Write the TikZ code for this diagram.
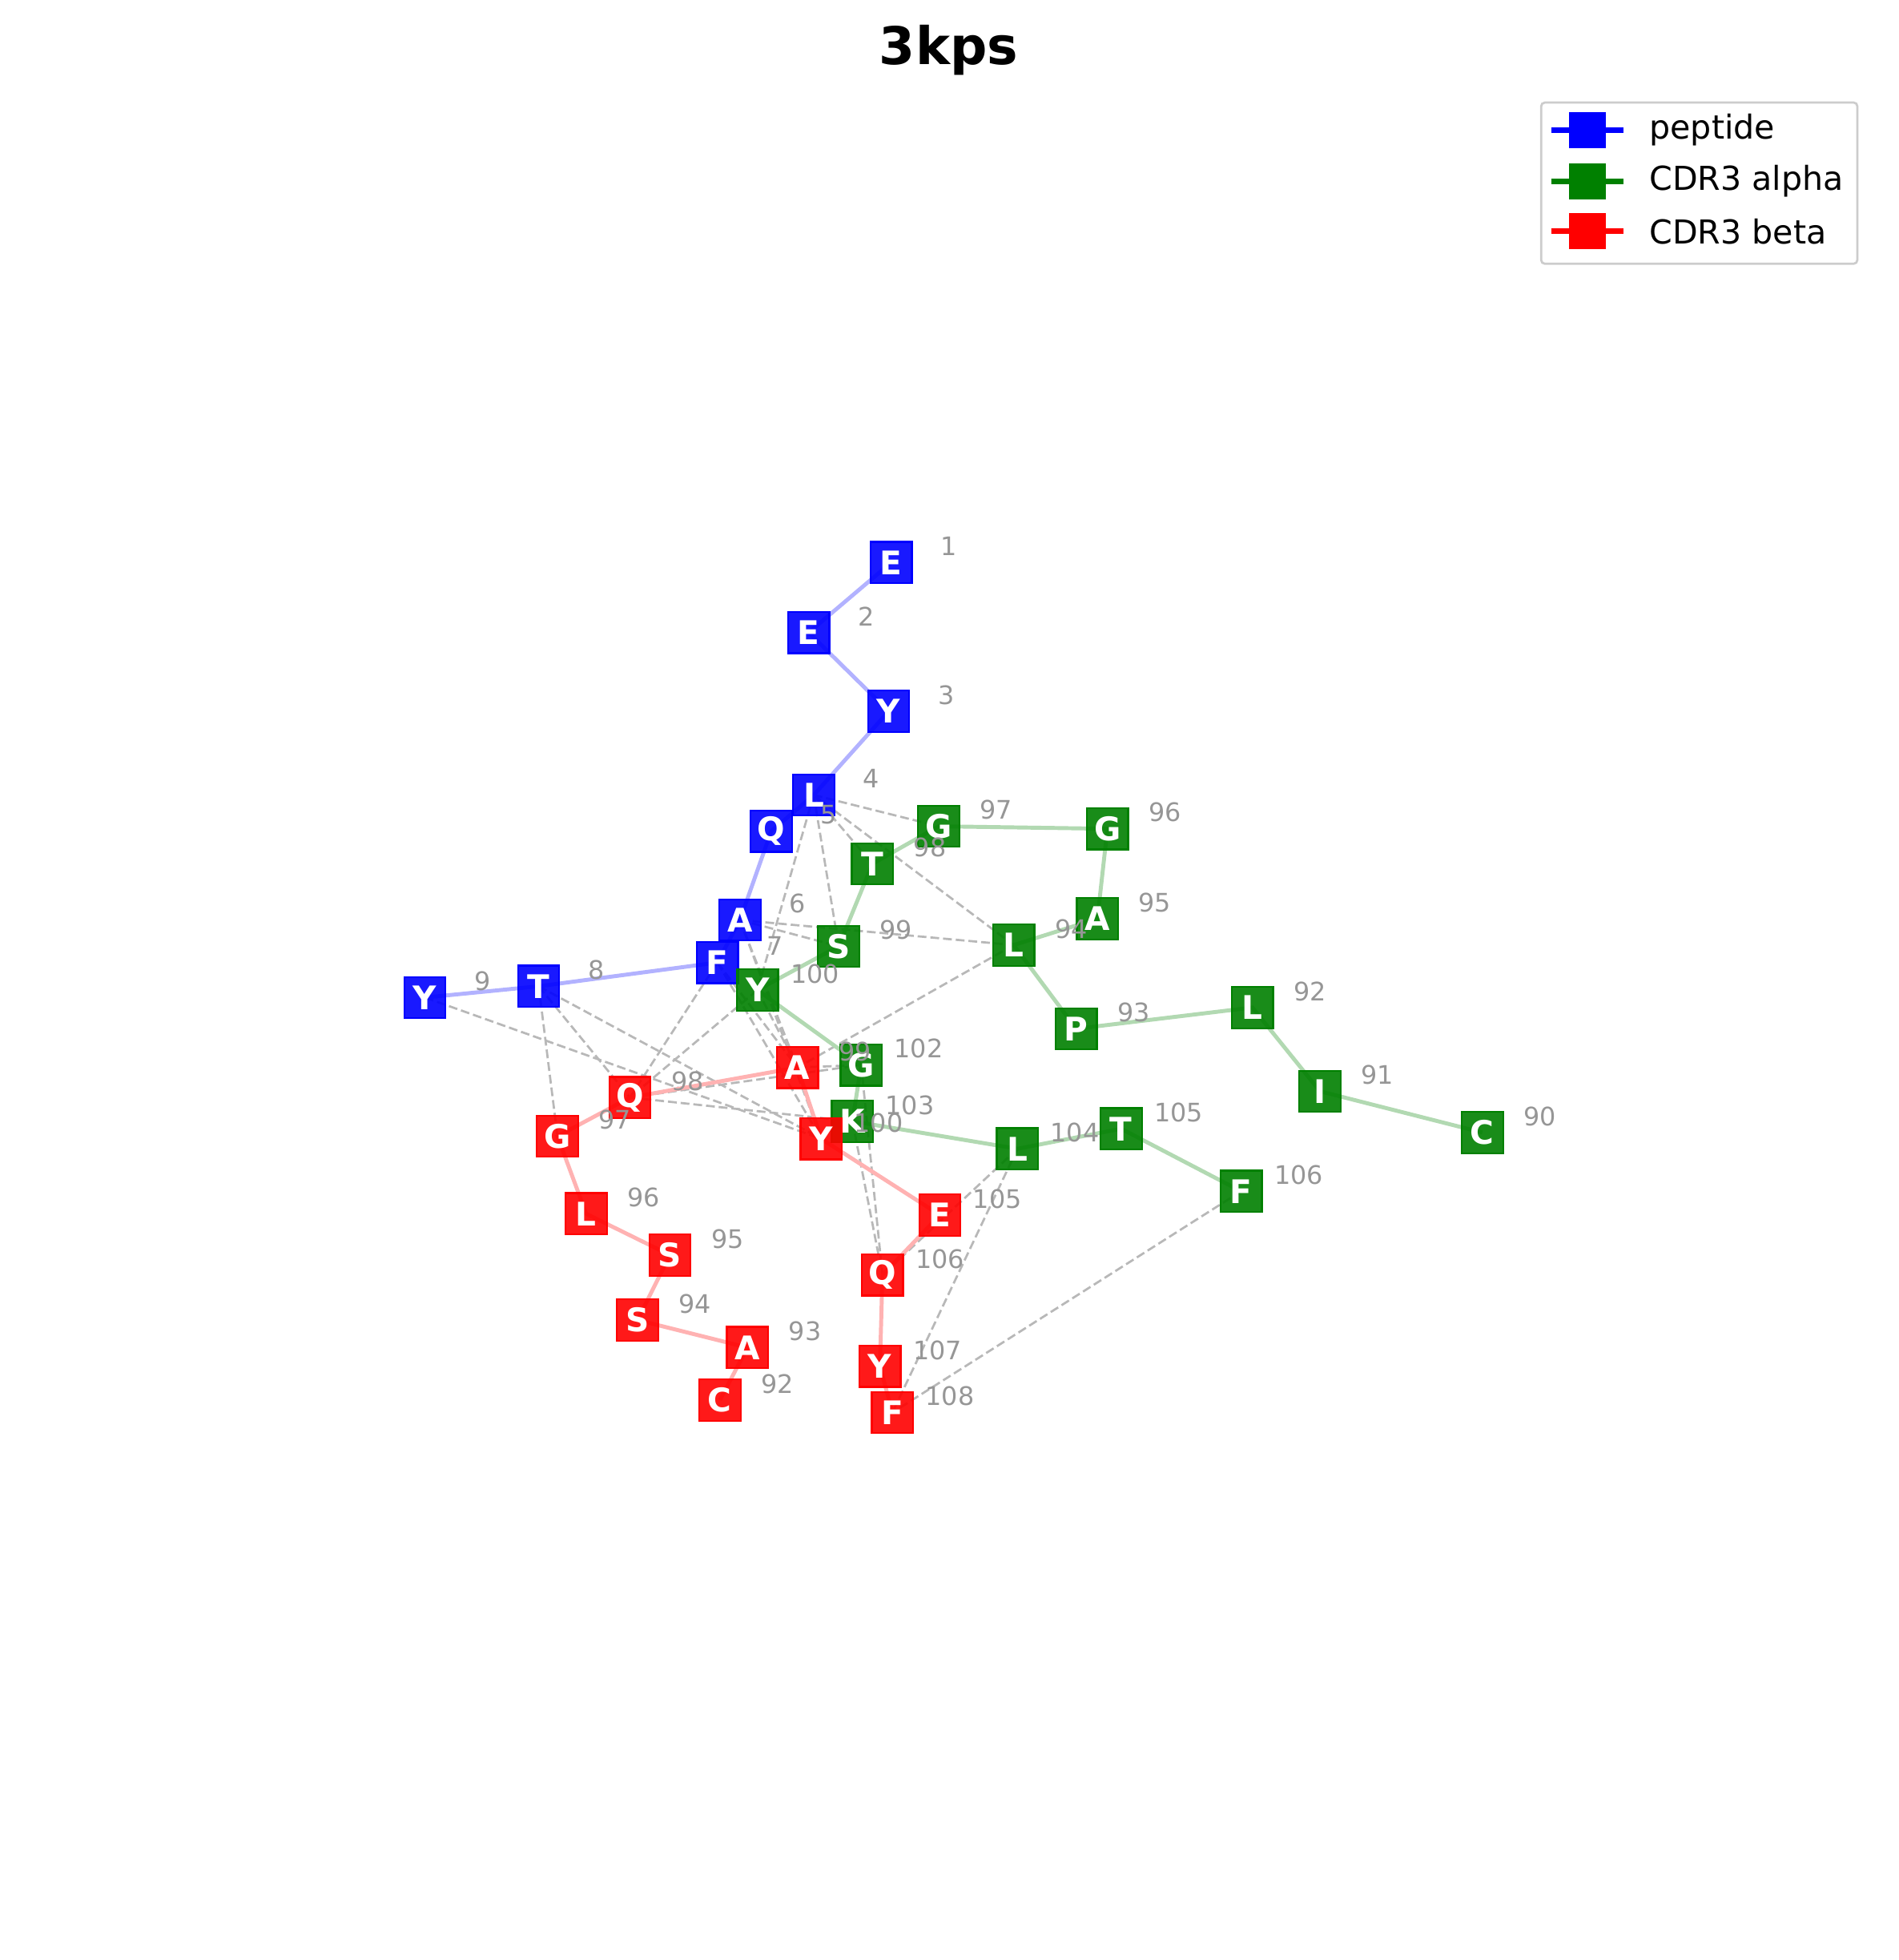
\documentclass[tikz,border=0pt]{standalone}
\usepackage{fontspec}
\setmainfont{DejaVu Sans}
\usetikzlibrary{calc,backgrounds}

\definecolor{mplgreen}{RGB}{0,128,0}
\definecolor{numgray}{RGB}{150,150,150}
\definecolor{contactgray}{RGB}{184,184,184}
\definecolor{framegray}{RGB}{204,204,204}

\begin{document}
\begin{tikzpicture}[x=0.01cm, y=-0.01cm, every node/.style={font=\fontsize{5.8}{7}\selectfont},
  res/.style={draw, line width=0.4pt, minimum size=3.3mm, inner sep=0pt, text=white,
    font=\fontsize{7.4}{8}\selectfont\bfseries, fill opacity=0.9, text opacity=1},
  pep/.style={res, fill=blue, draw=blue},
  cdra/.style={res, fill=mplgreen, draw=mplgreen},
  cdrb/.style={res, fill=red, draw=red},
  num/.style={text=numgray, inner sep=0pt},
  chain/.style={line width=0.9pt},
  contact/.style={contactgray, line width=0.5pt, dash pattern=on 2pt off 0.9pt},
  legmark/.style={minimum size=2.9mm, inner sep=0pt},
  legtext/.style={anchor=west, inner sep=0pt, font=\fontsize{7.5}{9}\selectfont}]
\useasboundingbox (0,0) rectangle (1519,1568);

\node[font=\fontsize{11.8}{14}\selectfont\bfseries] (title) at (759,40) {3kps};

% peptide
\node[pep] (p9) at (340,798) {Y};
\node[pep] (p8) at (431,789) {T};
\node[pep] (p7) at (574,770) {F};
\node[pep] (p6) at (592,736) {A};
\node[pep] (p5) at (617,665) {Q};
\node[pep] (p4) at (651,636) {L};
\node[pep] (p3) at (711,569) {Y};
\node[pep] (p2) at (647,506) {E};
\node[pep] (p1) at (713,450) {E};

% CDR3 alpha
\node[cdra] (a90) at (1186,906) {C};
\node[cdra] (a91) at (1056,873) {I};
\node[cdra] (a92) at (1002,806) {L};
\node[cdra] (a93) at (861,823) {P};
\node[cdra] (a94) at (811,756) {L};
\node[cdra] (a95) at (878,735) {A};
\node[cdra] (a96) at (886,663) {G};
\node[cdra] (a97) at (751,661) {G};
\node[cdra] (a98) at (698,691) {T};
\node[cdra] (a99) at (671,757) {S};
\node[cdra] (a100) at (606,792) {Y};
\node[cdra] (a102) at (689,852) {G};
\node[cdra] (a103) at (682,897) {K};
\node[cdra] (a104) at (814,919) {L};
\node[cdra] (a105) at (897,903) {T};
\node[cdra] (a106) at (993,953) {F};

% CDR3 beta
\node[cdrb] (b92) at (576,1120) {C};
\node[cdrb] (b93) at (598,1078) {A};
\node[cdrb] (b94) at (510,1056) {S};
\node[cdrb] (b95) at (536,1004) {S};
\node[cdrb] (b96) at (469,971) {L};
\node[cdrb] (b97) at (446,909) {G};
\node[cdrb] (b98) at (504,878) {Q};
\node[cdrb] (b99) at (638,854) {A};
\node[cdrb] (b100) at (657,911) {Y};
\node[cdrb] (b105) at (752,972) {E};
\node[cdrb] (b106) at (706,1020) {Q};
\node[cdrb] (b107) at (704,1093) {Y};
\node[cdrb] (b108) at (714,1130) {F};

\begin{scope}[on background layer]
% contacts
\draw[contact] (p4.center) -- (a97.center);
\draw[contact] (p4.center) -- (a98.center);
\draw[contact] (p4.center) -- (a94.center);
\draw[contact] (p4.center) -- (a99.center);
\draw[contact] (p4.center) -- (a100.center);
\draw[contact] (p6.center) -- (a99.center);
\draw[contact] (p6.center) -- (a94.center);
\draw[contact] (p6.center) -- (b99.center);
\draw[contact] (p6.center) -- (b100.center);
\draw[contact] (p7.center) -- (b99.center);
\draw[contact] (p7.center) -- (b100.center);
\draw[contact] (p7.center) -- (b98.center);
\draw[contact] (a100.center) -- (b99.center);
\draw[contact] (a100.center) -- (b98.center);
\draw[contact] (p8.center) -- (b97.center);
\draw[contact] (p8.center) -- (b98.center);
\draw[contact] (p8.center) -- (b100.center);
\draw[contact] (p9.center) -- (b100.center);
\draw[contact] (b98.center) -- (a103.center);
\draw[contact] (b98.center) -- (a102.center);
\draw[contact] (b99.center) -- (a102.center);
\draw[contact] (a94.center) -- (b99.center);
\draw[contact] (a102.center) -- (b106.center);
\draw[contact] (a103.center) -- (b106.center);
\draw[contact] (a104.center) -- (b106.center);
\draw[contact] (a104.center) -- (b108.center);
\draw[contact] (a106.center) -- (b108.center);

% backbones
\draw[chain, blue!30!white] (p1.center) -- (p2.center) -- (p3.center) -- (p4.center) -- (p5.center)
  -- (p6.center) -- (p7.center) -- (p8.center) -- (p9.center);
\draw[chain, mplgreen!30!white] (a90.center) -- (a91.center) -- (a92.center) -- (a93.center) -- (a94.center)
  -- (a95.center) -- (a96.center) -- (a97.center) -- (a98.center) -- (a99.center) -- (a100.center)
  -- (a102.center) -- (a103.center) -- (a104.center) -- (a105.center) -- (a106.center);
\draw[chain, red!30!white] (b92.center) -- (b93.center) -- (b94.center) -- (b95.center) -- (b96.center)
  -- (b97.center) -- (b98.center) -- (b99.center) -- (b100.center) -- (b105.center) -- (b106.center)
  -- (b107.center) -- (b108.center);
\end{scope}

% residue numbers
\node[num] (p1n) at ($(p1)+(46,-13)$) {1};
\node[num] (p2n) at ($(p2)+(46,-13)$) {2};
\node[num] (p3n) at ($(p3)+(46,-13)$) {3};
\node[num] (p4n) at ($(p4)+(46,-13)$) {4};
\node[num] (p5n) at ($(p5)+(46,-13)$) {5};
\node[num] (p6n) at ($(p6)+(46,-13)$) {6};
\node[num] (p7n) at ($(p7)+(46,-13)$) {7};
\node[num] (p8n) at ($(p8)+(46,-13)$) {8};
\node[num] (p9n) at ($(p9)+(46,-13)$) {9};
\node[num] (a90n) at ($(a90)+(46,-13)$) {90};
\node[num] (a91n) at ($(a91)+(46,-13)$) {91};
\node[num] (a92n) at ($(a92)+(46,-13)$) {92};
\node[num] (a93n) at ($(a93)+(46,-13)$) {93};
\node[num] (a94n) at ($(a94)+(46,-13)$) {94};
\node[num] (a95n) at ($(a95)+(46,-13)$) {95};
\node[num] (a96n) at ($(a96)+(46,-13)$) {96};
\node[num] (a97n) at ($(a97)+(46,-13)$) {97};
\node[num] (a98n) at ($(a98)+(46,-13)$) {98};
\node[num] (a99n) at ($(a99)+(46,-13)$) {99};
\node[num] (a100n) at ($(a100)+(46,-13)$) {100};
\node[num] (a102n) at ($(a102)+(46,-13)$) {102};
\node[num] (a103n) at ($(a103)+(46,-13)$) {103};
\node[num] (a104n) at ($(a104)+(46,-13)$) {104};
\node[num] (a105n) at ($(a105)+(46,-13)$) {105};
\node[num] (a106n) at ($(a106)+(46,-13)$) {106};
\node[num] (b92n) at ($(b92)+(46,-13)$) {92};
\node[num] (b93n) at ($(b93)+(46,-13)$) {93};
\node[num] (b94n) at ($(b94)+(46,-13)$) {94};
\node[num] (b95n) at ($(b95)+(46,-13)$) {95};
\node[num] (b96n) at ($(b96)+(46,-13)$) {96};
\node[num] (b97n) at ($(b97)+(46,-13)$) {97};
\node[num] (b98n) at ($(b98)+(46,-13)$) {98};
\node[num] (b99n) at ($(b99)+(46,-13)$) {99};
\node[num] (b100n) at ($(b100)+(46,-13)$) {100};
\node[num] (b105n) at ($(b105)+(46,-13)$) {105};
\node[num] (b106n) at ($(b106)+(46,-13)$) {106};
\node[num] (b107n) at ($(b107)+(46,-13)$) {107};
\node[num] (b108n) at ($(b108)+(46,-13)$) {108};

% legend
\draw[framegray, fill=white, line width=0.5pt, rounded corners=0.3mm] (1233,82) rectangle (1486,211);
\node[legmark, fill=blue] (lgpep) at (1270,104) {};
\node[legmark, fill=mplgreen] (lgcdra) at (1270,145) {};
\node[legmark, fill=red] (lgcdrb) at (1270,185) {};
\draw[blue, line width=1.2pt] ([xshift=-2.9mm]lgpep.center) -- ([xshift=2.9mm]lgpep.center);
\draw[mplgreen, line width=1.2pt] ([xshift=-2.9mm]lgcdra.center) -- ([xshift=2.9mm]lgcdra.center);
\draw[red, line width=1.2pt] ([xshift=-2.9mm]lgcdrb.center) -- ([xshift=2.9mm]lgcdrb.center);
\node[legtext] (lgpept) at (1319,104) {peptide};
\node[legtext] (lgcdrat) at (1319,145) {CDR3 alpha};
\node[legtext] (lgcdrbt) at (1319,185) {CDR3 beta};
\end{tikzpicture}
\end{document}
